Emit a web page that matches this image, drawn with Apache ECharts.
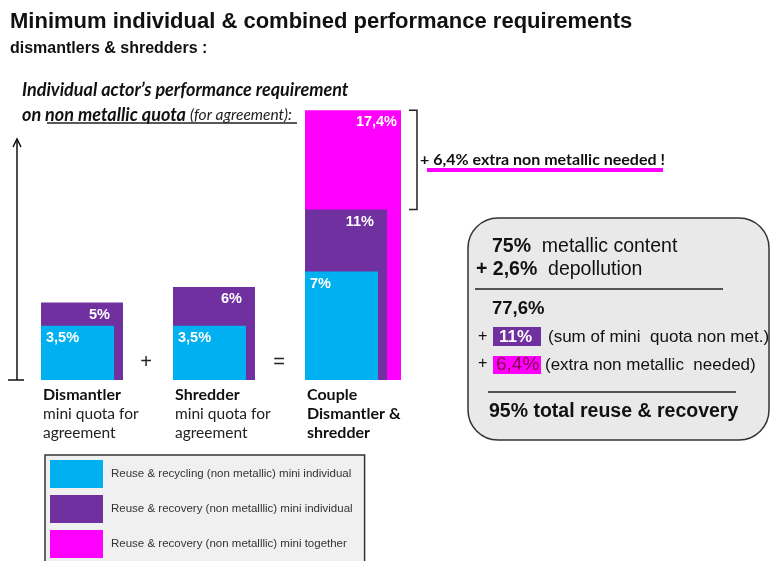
<!DOCTYPE html>
<html>
<head>
<meta charset="utf-8">
<script src="https://cdn.jsdelivr.net/npm/echarts@6/dist/echarts.min.js"></script>
<style>
  html, body { margin: 0; background: #fff; }
  #chart { width: 771px; height: 561px; }
</style>
</head>
<body>
<div id="chart"></div>
<script>
// data (in %)
var categories = ['Dismantler', 'Shredder', 'Couple'];
var categorySubLines = [['mini quota for', 'agreement'], ['mini quota for', 'agreement'], ['Dismantler &', 'shredder']];
var recyclingMini = [3.5, 3.5, 7];        // reuse & recycling, mini individual
var recoveryMini = [5, 6, 11];            // reuse & recovery, mini individual
var recoveryTogether = [null, null, 17.4]; // reuse & recovery, mini together
var legendNames = [
  'Reuse & recycling (non metallic) mini individual',
  'Reuse & recovery (non metalllic) mini individual',
  'Reuse & recovery (non metalllic) mini together'
];
var metallicContent = 75;
var depollution = 2.6;
var extraNeeded = 6.4;

var CYAN = '#00B0F0', PURPLE = '#7030A0', MAGENTA = '#FF00FF';
var ARIAL = '"Liberation Sans", Arial, sans-serif';
var CALIBRI = 'Lato, "Open Sans", sans-serif';

function pct (v) {
  return String(Math.round(v * 10) / 10).replace('.', ',') + '%';
}

// bars are left aligned on the category point, different widths
function barRenderer (barWidth, color, labelAlign, labelInset, withBracket) {
  return function (params, api) {
    var v = api.value(1);
    var base = api.coord([api.value(0), 0]);
    var top = api.coord([api.value(0), v]);
    var x = base[0];
    var labelX = labelAlign === 'left' ? x + labelInset : x + barWidth - labelInset;
    var children = [
      {type: 'rect', shape: {x: x, y: top[1], width: barWidth, height: base[1] - top[1]}, style: {fill: color}},
      {type: 'text', x: labelX, y: top[1] + 12,
        style: {text: pct(v), fill: '#fff', font: 'bold 14.5px ' + ARIAL, align: labelAlign, verticalAlign: 'middle'}}
    ];
    if (withBracket) {
      var low = api.coord([api.value(0), api.value(2)]);
      var bx = x + barWidth + 16;
      var mid = (top[1] + low[1]) / 2;
      children.push({type: 'polyline', shape: {points: [[bx - 8, top[1]], [bx, top[1]], [bx, low[1]], [bx - 8, low[1]]]},
        style: {stroke: '#222', lineWidth: 1.5, fill: null}});
      children.push({type: 'rect', shape: {x: bx + 10, y: mid + 8, width: 236, height: 4}, style: {fill: MAGENTA}});
      children.push({type: 'text', x: bx + 3, y: mid,
        style: {text: '+ ' + pct(v - api.value(2)) + ' extra non metallic needed !', fill: '#111',
          font: 'bold 16px ' + CALIBRI, verticalAlign: 'middle'}});
    }
    return {type: 'group', children: children};
  };
}

function seriesData (values, extra) {
  var out = [];
  values.forEach(function (v, i) {
    if (v != null) out.push(extra ? [i, v, extra[i]] : [i, v]);
  });
  return out;
}

var chart = echarts.init(document.getElementById('chart'));

chart.setOption({
  animation: false,
  grid: {left: 41, right: 466, top: 70, bottom: 181},
  xAxis: {
    type: 'category',
    data: categories,
    boundaryGap: false,
    axisLine: {show: false},
    axisTick: {show: false},
    axisLabel: {
      interval: 0,
      align: 'left',
      margin: 5,
      formatter: function (value, i) {
        return '{b|' + value + '}\n' + categorySubLines[i].map(function (s) {
          return (i === 2 ? '{b|' : '{n|') + s + '}';
        }).join('\n');
      },
      rich: {
        b: {fontFamily: CALIBRI, fontSize: 16, fontWeight: 'bold', color: '#111', lineHeight: 19, padding: [0, 0, 0, 2]},
        n: {fontFamily: CALIBRI, fontSize: 15.5, color: '#222', lineHeight: 19, padding: [0, 0, 0, 2]}
      }
    }
  },
  yAxis: {type: 'value', min: 0, max: 20, show: false},
  legend: {
    data: legendNames,
    orient: 'vertical',
    left: 45,
    top: 455,
    height: 130,
    icon: 'rect',
    itemWidth: 53,
    itemHeight: 28,
    itemGap: 7,
    padding: [5, 12, 5, 5],
    backgroundColor: '#f0f0f0',
    borderColor: '#333',
    borderWidth: 1.5,
    selectedMode: false,
    textStyle: {fontFamily: ARIAL, fontSize: 11.5, color: '#333', padding: [0, 0, 0, 3]}
  },
  series: [
    {name: legendNames[2], type: 'custom', itemStyle: {color: MAGENTA},
      renderItem: barRenderer(96, MAGENTA, 'right', 4, true), data: seriesData(recoveryTogether, recoveryMini)},
    {name: legendNames[1], type: 'custom', itemStyle: {color: PURPLE},
      renderItem: barRenderer(82, PURPLE, 'right', 13), data: seriesData(recoveryMini)},
    {name: legendNames[0], type: 'custom', itemStyle: {color: CYAN},
      renderItem: barRenderer(73, CYAN, 'left', 5), data: seriesData(recyclingMini)}
  ],
  graphic: [
    // title
    {type: 'text', x: 10, y: 22, style: {text: 'Minimum individual & combined performance requirements',
      font: 'bold 22px ' + ARIAL, fill: '#111', verticalAlign: 'middle'}},
    {type: 'text', x: 10, y: 49, style: {text: 'dismantlers & shredders :',
      font: 'bold 16px ' + ARIAL, fill: '#111', verticalAlign: 'middle'}},
    // header above the bars
    {type: 'text', x: 22, y: 90, style: {text: 'Individual actor\u2019s performance requirement',
      font: 'italic bold 18px ' + CALIBRI, fill: '#111', verticalAlign: 'middle'}},
    {type: 'text', x: 22, y: 115, style: {
      text: '{b|on non metallic quota }{n|(for agreement):}',
      verticalAlign: 'middle',
      rich: {
        b: {fontFamily: CALIBRI, fontSize: 18, fontStyle: 'italic', fontWeight: 'bold', fill: '#111'},
        n: {fontFamily: CALIBRI, fontSize: 15.5, fontStyle: 'italic', fill: '#222'}
      }}},
    {type: 'line', shape: {x1: 47, y1: 123, x2: 297, y2: 123}, style: {stroke: '#222', lineWidth: 1.3}},
    // vertical arrow
    {type: 'line', shape: {x1: 17, y1: 380, x2: 17, y2: 140}, style: {stroke: '#111', lineWidth: 1.5}},
    {type: 'polyline', shape: {points: [[13, 147], [17, 139], [21, 147]]}, style: {stroke: '#111', lineWidth: 1.5, fill: null}},
    {type: 'line', shape: {x1: 8, y1: 380, x2: 24, y2: 380}, style: {stroke: '#111', lineWidth: 1.5}},
    // operators between bars
    {type: 'text', x: 146, y: 362, style: {text: '+', font: '20px ' + ARIAL, fill: '#222', align: 'center', verticalAlign: 'middle'}},
    {type: 'text', x: 279, y: 362, style: {text: '=', font: '20px ' + ARIAL, fill: '#222', align: 'center', verticalAlign: 'middle'}},
    // summary box
    {type: 'rect', shape: {x: 468, y: 218, width: 301, height: 222, r: 30}, style: {fill: '#e9e9e9', stroke: '#333', lineWidth: 1.5}},
    {type: 'text', x: 492, y: 247, style: {
      text: '{b|' + pct(metallicContent) + '}{n|  metallic content}', verticalAlign: 'middle',
      rich: {b: {fontFamily: ARIAL, fontSize: 19.5, fontWeight: 'bold', fill: '#111'}, n: {fontFamily: ARIAL, fontSize: 19.5, fill: '#111'}}}},
    {type: 'text', x: 476, y: 270, style: {
      text: '{b|+ ' + pct(depollution) + '}{n|  depollution}', verticalAlign: 'middle',
      rich: {b: {fontFamily: ARIAL, fontSize: 19.5, fontWeight: 'bold', fill: '#111'}, n: {fontFamily: ARIAL, fontSize: 19.5, fill: '#111'}}}},
    {type: 'line', shape: {x1: 475, y1: 289, x2: 723, y2: 289}, style: {stroke: '#222', lineWidth: 1.5}},
    {type: 'text', x: 492, y: 309, style: {text: pct(metallicContent + depollution),
      font: 'bold 18.5px ' + ARIAL, fill: '#111', verticalAlign: 'middle'}},
    {type: 'text', x: 478, y: 337, style: {text: '+', font: '16px ' + ARIAL, fill: '#111', verticalAlign: 'middle'}},
    {type: 'rect', shape: {x: 493, y: 327, width: 48, height: 19}, style: {fill: PURPLE}},
    {type: 'text', x: 499, y: 337, style: {text: pct(recoveryMini[2]), font: 'bold 17px ' + ARIAL, fill: '#fff', verticalAlign: 'middle'}},
    {type: 'text', x: 548, y: 337, style: {text: '(sum of mini  quota non met.)', font: '17px ' + ARIAL, fill: '#111', verticalAlign: 'middle'}},
    {type: 'text', x: 478, y: 364, style: {text: '+', font: '16px ' + ARIAL, fill: '#111', verticalAlign: 'middle'}},
    {type: 'rect', shape: {x: 493, y: 356, width: 48, height: 18}, style: {fill: MAGENTA}},
    {type: 'text', x: 496, y: 365, style: {text: pct(extraNeeded), font: '19px ' + ARIAL, fill: '#80004a', verticalAlign: 'middle'}},
    {type: 'text', x: 545, y: 365, style: {text: '(extra non metallic  needed)', font: '17px ' + ARIAL, fill: '#111', verticalAlign: 'middle'}},
    {type: 'line', shape: {x1: 488, y1: 392, x2: 736, y2: 392}, style: {stroke: '#222', lineWidth: 1.5}},
    {type: 'text', x: 489, y: 412, style: {
      text: pct(metallicContent + depollution + recoveryMini[2] + extraNeeded) + ' total reuse & recovery',
      font: 'bold 19.5px ' + ARIAL, fill: '#111', verticalAlign: 'middle'}}
  ]
});
</script>
</body>
</html>
